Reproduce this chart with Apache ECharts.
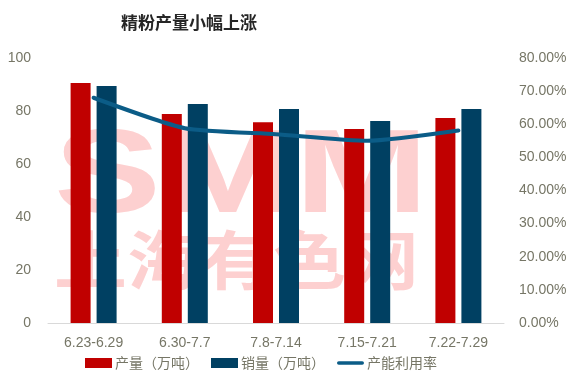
<!DOCTYPE html>
<html>
<head>
<meta charset="utf-8">
<script src="https://cdn.jsdelivr.net/npm/echarts@6/dist/echarts.min.js"></script>
<style>html,body{margin:0;padding:0;background:#fff}#c{width:586px;height:380px}</style>
</head>
<body>
<div id="c"></div>
<script>
const categories = ['6.23-6.29', '6.30-7.7', '7.8-7.14', '7.15-7.21', '7.22-7.29'];
const production = [90.6, 78.9, 75.8, 73.2, 77.4];
const sales = [89.4, 82.6, 80.8, 76.2, 80.8];
const utilization = [68.0, 58.8, 57.0, 55.0, 58.1];
const leftTicks = [0, 20, 40, 60, 80, 100];
const rightTicks = [0, 10, 20, 30, 40, 50, 60, 70, 80];

const labelColor = '#767666';
const chart = echarts.init(document.getElementById('c'));
chart.setOption({
  animation: false,
  title: {
    text: '精粉产量小幅上涨', left: 116, top: 9,
    textStyle: { fontSize: 17, fontWeight: 'bold', color: '#262626', fontFamily: 'Noto Sans CJK SC' }
  },
  graphic: [
    { type: 'text', left: 54, top: 120, z: 0, silent: true, scaleX: 1.36,
      style: { text: 'SMM', font: 'bold 118px "Liberation Sans"', fill: '#fdd0d0' } },
    { type: 'text', left: 54, top: 228, z: 0, silent: true, scaleX: 1.14,
      style: { text: '上海有色网', font: 'bold 64px "Noto Sans CJK SC"', fill: '#fdd0d0' } }
  ],
  legend: {
    left: 80, top: 351, itemWidth: 27, itemHeight: 10, itemGap: 12,
    textStyle: { fontSize: 14, color: labelColor, fontFamily: 'Noto Sans CJK SC', padding: [0, 0, 0, -2] },
    data: [
      { name: '产量（万吨）', icon: 'rect' },
      { name: '销量（万吨）', icon: 'rect' },
      { name: '产能利用率', icon: 'path://M2,0H28A2,2 0 0 1 28,4H2A2,2 0 0 1 2,0Z' }
    ]
  },
  grid: { left: 48, right: 82, top: 58, bottom: 57 },
  xAxis: {
    type: 'category', data: categories,
    axisLine: { lineStyle: { color: '#d9d9d9', width: 1 } },
    axisTick: { show: false },
    axisLabel: { fontSize: 14, color: labelColor, margin: 13, fontFamily: 'Liberation Sans' }
  },
  yAxis: [
    { type: 'value', min: leftTicks[0], max: leftTicks[leftTicks.length - 1], interval: 20,
      splitLine: { show: false }, axisLine: { show: false }, axisTick: { show: false },
      axisLabel: { fontSize: 14, color: labelColor, margin: 17, fontFamily: 'Liberation Sans' } },
    { type: 'value', min: rightTicks[0], max: rightTicks[rightTicks.length - 1], interval: 10,
      splitLine: { show: false }, axisLine: { show: false }, axisTick: { show: false },
      axisLabel: { fontSize: 14, color: labelColor, margin: 15, fontFamily: 'Liberation Sans',
        formatter: v => v.toFixed(2) + '%' } }
  ],
  series: [
    { name: '产量（万吨）', type: 'bar', data: production, barWidth: 20, barGap: '30%',
      itemStyle: { color: '#c00000' }, z: 2 },
    { name: '销量（万吨）', type: 'bar', data: sales, barWidth: 20,
      itemStyle: { color: '#004062' }, z: 2 },
    { name: '产能利用率', type: 'line', yAxisIndex: 1, data: utilization, smooth: 0.2,
      symbol: 'none', lineStyle: { color: '#0b5c87', width: 4, cap: 'round' },
      itemStyle: { color: '#0b5c87' }, z: 3 }
  ]
});
</script>
</body>
</html>
